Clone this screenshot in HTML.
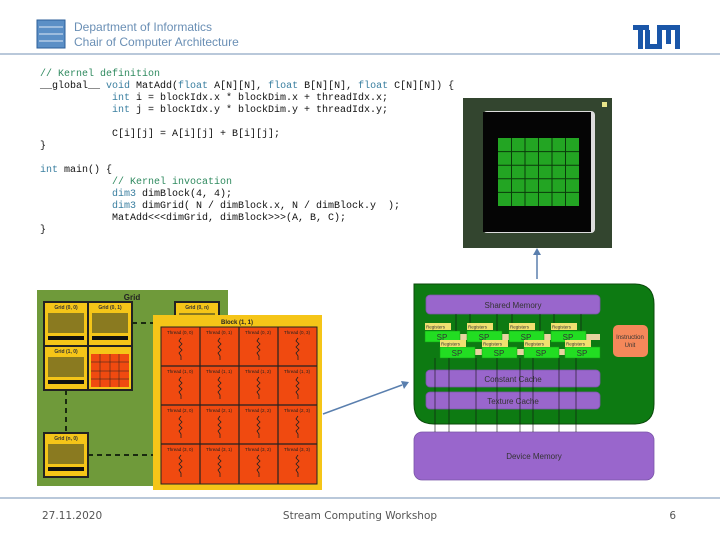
<!DOCTYPE html>
<html><head><meta charset="utf-8"><style>
html,body{margin:0;padding:0;background:#fff;}
body{width:720px;height:540px;overflow:hidden;position:relative;}
</style></head><body>
<svg width="720" height="540" viewBox="0 0 720 540" xmlns="http://www.w3.org/2000/svg" style="position:absolute;left:0;top:0">
<!-- header -->
<rect x="37" y="20" width="28" height="28" fill="#5b8fc6" stroke="#2c5f99" stroke-width="1"/>
<line x1="39" y1="27" x2="63" y2="27" stroke="#dfe9f5" stroke-width="1"/>
<line x1="39" y1="34" x2="63" y2="34" stroke="#dfe9f5" stroke-width="1"/>
<line x1="39" y1="41" x2="63" y2="41" stroke="#dfe9f5" stroke-width="1"/>
<text x="74" y="31" font-family="Liberation Sans, sans-serif" font-size="12" fill="#6a8fb5">Department of Informatics</text>
<text x="74" y="46" font-family="Liberation Sans, sans-serif" font-size="12" fill="#6a8fb5">Chair of Computer Architecture</text>
<line x1="0" y1="54" x2="720" y2="54" stroke="#8fa8c4" stroke-width="1.2"/>
<!-- TUM logo -->
<g fill="#1a56a8">
<rect x="633" y="25" width="16" height="5"/><rect x="638" y="25" width="5" height="24"/>
<rect x="645" y="30" width="5" height="19"/><rect x="645" y="44" width="17" height="5"/><rect x="657" y="25" width="5" height="24"/>
<rect x="657" y="25" width="23" height="5"/><rect x="666" y="25" width="5" height="19"/><rect x="675" y="25" width="5" height="24"/>
</g>
<!-- code -->
<g font-family="Liberation Mono, monospace" font-size="10" fill="#111">
<text x="40" y="76" fill="#2f8a5f" xml:space="preserve">// Kernel definition</text>
<text x="40" y="88" xml:space="preserve">__global__ <tspan fill="#3a7fa0">void</tspan> MatAdd(<tspan fill="#3a7fa0">float</tspan> A[N][N], <tspan fill="#3a7fa0">float</tspan> B[N][N], <tspan fill="#3a7fa0">float</tspan> C[N][N]) {</text>
<text x="112" y="100" xml:space="preserve"><tspan fill="#3a7fa0">int</tspan> i = blockIdx.x * blockDim.x + threadIdx.x;</text>
<text x="112" y="112" xml:space="preserve"><tspan fill="#3a7fa0">int</tspan> j = blockIdx.y * blockDim.y + threadIdx.y;</text>
<text x="112" y="136" xml:space="preserve">C[i][j] = A[i][j] + B[i][j];</text>
<text x="40" y="148">}</text>
<text x="40" y="172" xml:space="preserve"><tspan fill="#3a7fa0">int</tspan> main() {</text>
<text x="112" y="184" fill="#2f8a5f" xml:space="preserve">// Kernel invocation</text>
<text x="112" y="196" xml:space="preserve"><tspan fill="#3a7fa0">dim3</tspan> dimBlock(4, 4);</text>
<text x="112" y="208" xml:space="preserve"><tspan fill="#3a7fa0">dim3</tspan> dimGrid( N / dimBlock.x, N / dimBlock.y  );</text>
<text x="112" y="220" xml:space="preserve">MatAdd&lt;&lt;&lt;dimGrid, dimBlock&gt;&gt;&gt;(A, B, C);</text>
<text x="40" y="232">}</text>
</g>
<!-- chip -->
<rect x="463" y="98" width="149" height="150" fill="#33452f"/>
<rect x="483" y="111" width="112" height="122" rx="4" fill="#ddd"/>
<rect x="483" y="112" width="108" height="120" fill="#050505"/>
<rect x="498" y="138" width="81" height="68" fill="#23a523"/>
<g stroke="#0a3a0a" stroke-width="1">
<line x1="511.5" y1="138" x2="511.5" y2="206"/><line x1="525" y1="138" x2="525" y2="206"/><line x1="538.5" y1="138" x2="538.5" y2="206"/><line x1="552" y1="138" x2="552" y2="206"/><line x1="565.5" y1="138" x2="565.5" y2="206"/>
<line x1="498" y1="151.6" x2="579" y2="151.6"/><line x1="498" y1="165.2" x2="579" y2="165.2"/><line x1="498" y1="178.8" x2="579" y2="178.8"/><line x1="498" y1="192.4" x2="579" y2="192.4"/>
</g>
<rect x="602" y="102" width="5" height="5" fill="#e8e48a"/>
<!-- arrow up -->
<line x1="537" y1="279" x2="537" y2="254" stroke="#5a7fae" stroke-width="1.5"/>
<polygon points="537,248 533,255 541,255" fill="#5a7fae"/>
<!-- grid diagram -->
<rect x="37" y="290" width="191" height="196" fill="#6f9a3a"/>
<text x="132" y="300" font-family="Liberation Sans, sans-serif" font-size="8" font-weight="bold" fill="#222" text-anchor="middle">Grid</text>
<g stroke="#222" stroke-width="2" fill="#f5c518">
<rect x="44" y="302" width="44" height="44"/><rect x="88" y="302" width="44" height="44"/>
<rect x="44" y="346" width="44" height="44"/><rect x="88" y="346" width="44" height="44"/>
<rect x="175" y="302" width="44" height="30"/>
<rect x="44" y="433" width="44" height="44"/>
</g>
<rect x="91" y="354" width="38" height="33" fill="#f04a10"/>
<g stroke="#222" stroke-width="0.5"><line x1="100" y1="354" x2="100" y2="387"/><line x1="110" y1="354" x2="110" y2="387"/><line x1="119" y1="354" x2="119" y2="387"/><line x1="91" y1="362" x2="129" y2="362"/><line x1="91" y1="371" x2="129" y2="371"/><line x1="91" y1="379" x2="129" y2="379"/></g>
<g font-family="Liberation Sans, sans-serif" font-size="5" font-weight="bold" fill="#333" text-anchor="middle">
<text x="66" y="309">Grid (0, 0)</text><text x="110" y="309">Grid (0, 1)</text><text x="66" y="353">Grid (1, 0)</text><text x="197" y="309">Grid (0, n)</text><text x="66" y="440">Grid (n, 0)</text>
</g>
<g fill="#8a7a20">
<rect x="48" y="313" width="36" height="20"/><rect x="92" y="313" width="36" height="20"/><rect x="48" y="357" width="36" height="20"/><rect x="48" y="444" width="36" height="20"/><rect x="179" y="313" width="36" height="15"/>
</g>
<g fill="#111"><rect x="48" y="336" width="36" height="4"/><rect x="92" y="336" width="36" height="4"/><rect x="48" y="380" width="36" height="4"/><rect x="48" y="467" width="36" height="4"/></g>
<g stroke="#1a2a10" stroke-width="2" stroke-dasharray="5,4">
<line x1="132" y1="323" x2="175" y2="323"/><line x1="66" y1="390" x2="66" y2="433"/><line x1="88" y1="455" x2="153" y2="455"/>
</g>
<rect x="153" y="315" width="169" height="175" fill="#f5c518"/>
<text x="237" y="324" font-family="Liberation Sans, sans-serif" font-size="6" font-weight="bold" fill="#222" text-anchor="middle">Block (1, 1)</text>
<rect x="161" y="327" width="156" height="157" fill="#f04a10" stroke="#222" stroke-width="1"/>
<g stroke="#222" stroke-width="1.2">
<line x1="200" y1="327" x2="200" y2="484"/><line x1="239" y1="327" x2="239" y2="484"/><line x1="278" y1="327" x2="278" y2="484"/>
<line x1="161" y1="366" x2="317" y2="366"/><line x1="161" y1="405" x2="317" y2="405"/><line x1="161" y1="444" x2="317" y2="444"/>
</g>
<g font-family="Liberation Sans, sans-serif" font-size="4.5" fill="#222" text-anchor="middle">
<text x="180" y="334">Thread (0, 0)</text><text x="219" y="334">Thread (0, 1)</text><text x="258" y="334">Thread (0, 2)</text><text x="297" y="334">Thread (0, 3)</text>
<text x="180" y="373">Thread (1, 0)</text><text x="219" y="373">Thread (1, 1)</text><text x="258" y="373">Thread (1, 2)</text><text x="297" y="373">Thread (1, 3)</text>
<text x="180" y="412">Thread (2, 0)</text><text x="219" y="412">Thread (2, 1)</text><text x="258" y="412">Thread (2, 2)</text><text x="297" y="412">Thread (2, 3)</text>
<text x="180" y="451">Thread (3, 0)</text><text x="219" y="451">Thread (3, 1)</text><text x="258" y="451">Thread (3, 2)</text><text x="297" y="451">Thread (3, 3)</text>
</g>
<defs><path id="sq" d="M0,0 l-2,3 l3,3 l-3,3 l3,3 l-3,3 l2,3 l0,4" fill="none" stroke="#222" stroke-width="0.8"/></defs>
<g>
<use href="#sq" x="181" y="338"/><use href="#sq" x="220" y="338"/><use href="#sq" x="259" y="338"/><use href="#sq" x="298" y="338"/>
<use href="#sq" x="181" y="377"/><use href="#sq" x="220" y="377"/><use href="#sq" x="259" y="377"/><use href="#sq" x="298" y="377"/>
<use href="#sq" x="181" y="416"/><use href="#sq" x="220" y="416"/><use href="#sq" x="259" y="416"/><use href="#sq" x="298" y="416"/>
<use href="#sq" x="181" y="455"/><use href="#sq" x="220" y="455"/><use href="#sq" x="259" y="455"/><use href="#sq" x="298" y="455"/>
</g>
<!-- arrow to GPU -->
<line x1="323" y1="414" x2="402" y2="385" stroke="#5a7fae" stroke-width="1.5"/>
<polygon points="409,382 401,381 404,389" fill="#5a7fae"/>
<!-- GPU arch -->
<path d="M414,284 H634 Q654,284 654,304 V404 Q654,424 634,424 H434 Q414,424 414,404 Z" fill="#0d7a12" stroke="#0a4a0a" stroke-width="1"/>
<g fill="#9966cc" stroke="#7a55a8" stroke-width="0.8">
<rect x="426" y="295" width="174" height="19" rx="4"/>
<rect x="426" y="370" width="174" height="17" rx="4"/>
<rect x="426" y="392" width="174" height="17" rx="4"/>
<rect x="414" y="432" width="240" height="48" rx="8"/>
</g>
<g font-family="Liberation Sans, sans-serif" font-size="8" fill="#333" text-anchor="middle">
<text x="513" y="308">Shared Memory</text><text x="513" y="382">Constant Cache</text><text x="513" y="404">Texture Cache</text><text x="534" y="459">Device Memory</text>
</g>
<rect x="445" y="349" width="145" height="6" fill="#e8d4a0"/>
<rect x="430" y="334" width="170" height="6" fill="#e8d4a0"/>
<g fill="#22dd22" stroke="#119911" stroke-width="0.5">
<rect x="425" y="331" width="35" height="11"/><rect x="467" y="331" width="35" height="11"/><rect x="509" y="331" width="35" height="11"/><rect x="551" y="331" width="35" height="11"/>
<rect x="440" y="347" width="35" height="11"/><rect x="482" y="347" width="35" height="11"/><rect x="524" y="347" width="35" height="11"/><rect x="565" y="347" width="35" height="11"/>
</g>
<g fill="#f0e070">
<rect x="425" y="323" width="26" height="7"/><rect x="467" y="323" width="26" height="7"/><rect x="509" y="323" width="26" height="7"/><rect x="551" y="323" width="26" height="7"/>
<rect x="440" y="340" width="26" height="7"/><rect x="482" y="340" width="26" height="7"/><rect x="524" y="340" width="26" height="7"/><rect x="565" y="340" width="26" height="7"/>
</g>
<g font-family="Liberation Sans, sans-serif" font-size="4.5" fill="#333">
<text x="426" y="328.5">Registers</text><text x="468" y="328.5">Registers</text><text x="510" y="328.5">Registers</text><text x="552" y="328.5">Registers</text>
<text x="441" y="345.5">Registers</text><text x="483" y="345.5">Registers</text><text x="525" y="345.5">Registers</text><text x="566" y="345.5">Registers</text>
</g>
<g font-family="Liberation Sans, sans-serif" font-size="8" fill="#333" text-anchor="middle">
<text x="442" y="340">SP</text><text x="484" y="340">SP</text><text x="526" y="340">SP</text><text x="568" y="340">SP</text>
<text x="457" y="356">SP</text><text x="499" y="356">SP</text><text x="541" y="356">SP</text><text x="582" y="356">SP</text>
</g>
<rect x="613" y="325" width="35" height="32" rx="5" fill="#f4885a"/>
<text x="630" y="339" font-family="Liberation Sans, sans-serif" font-size="6" fill="#333" text-anchor="middle">Instruction</text>
<text x="630" y="347" font-family="Liberation Sans, sans-serif" font-size="6" fill="#333" text-anchor="middle">Unit</text>
<g stroke="#111" stroke-width="0.6">
<line x1="435" y1="358" x2="435" y2="432"/><line x1="449" y1="358" x2="449" y2="432"/><line x1="476" y1="358" x2="476" y2="432"/><line x1="497" y1="358" x2="497" y2="432"/><line x1="520" y1="358" x2="520" y2="432"/><line x1="533" y1="358" x2="533" y2="432"/><line x1="559" y1="358" x2="559" y2="432"/><line x1="576" y1="358" x2="576" y2="432"/>
<line x1="456" y1="314" x2="456" y2="331"/><line x1="497" y1="314" x2="497" y2="331"/><line x1="540" y1="314" x2="540" y2="331"/><line x1="581" y1="314" x2="581" y2="331"/>
<line x1="470" y1="314" x2="470" y2="323"/><line x1="512" y1="314" x2="512" y2="323"/><line x1="554" y1="314" x2="554" y2="323"/>
</g>
<!-- footer -->
<line x1="0" y1="498" x2="720" y2="498" stroke="#8fa8c4" stroke-width="1.2"/>
<g font-family="DejaVu Sans, Liberation Sans, sans-serif" font-size="10.5" fill="#555">
<text x="42" y="519">27.11.2020</text>
<text x="360" y="519" text-anchor="middle">Stream Computing Workshop</text>
<text x="676" y="519" text-anchor="end">6</text>
</g>
</svg>
</body></html>
